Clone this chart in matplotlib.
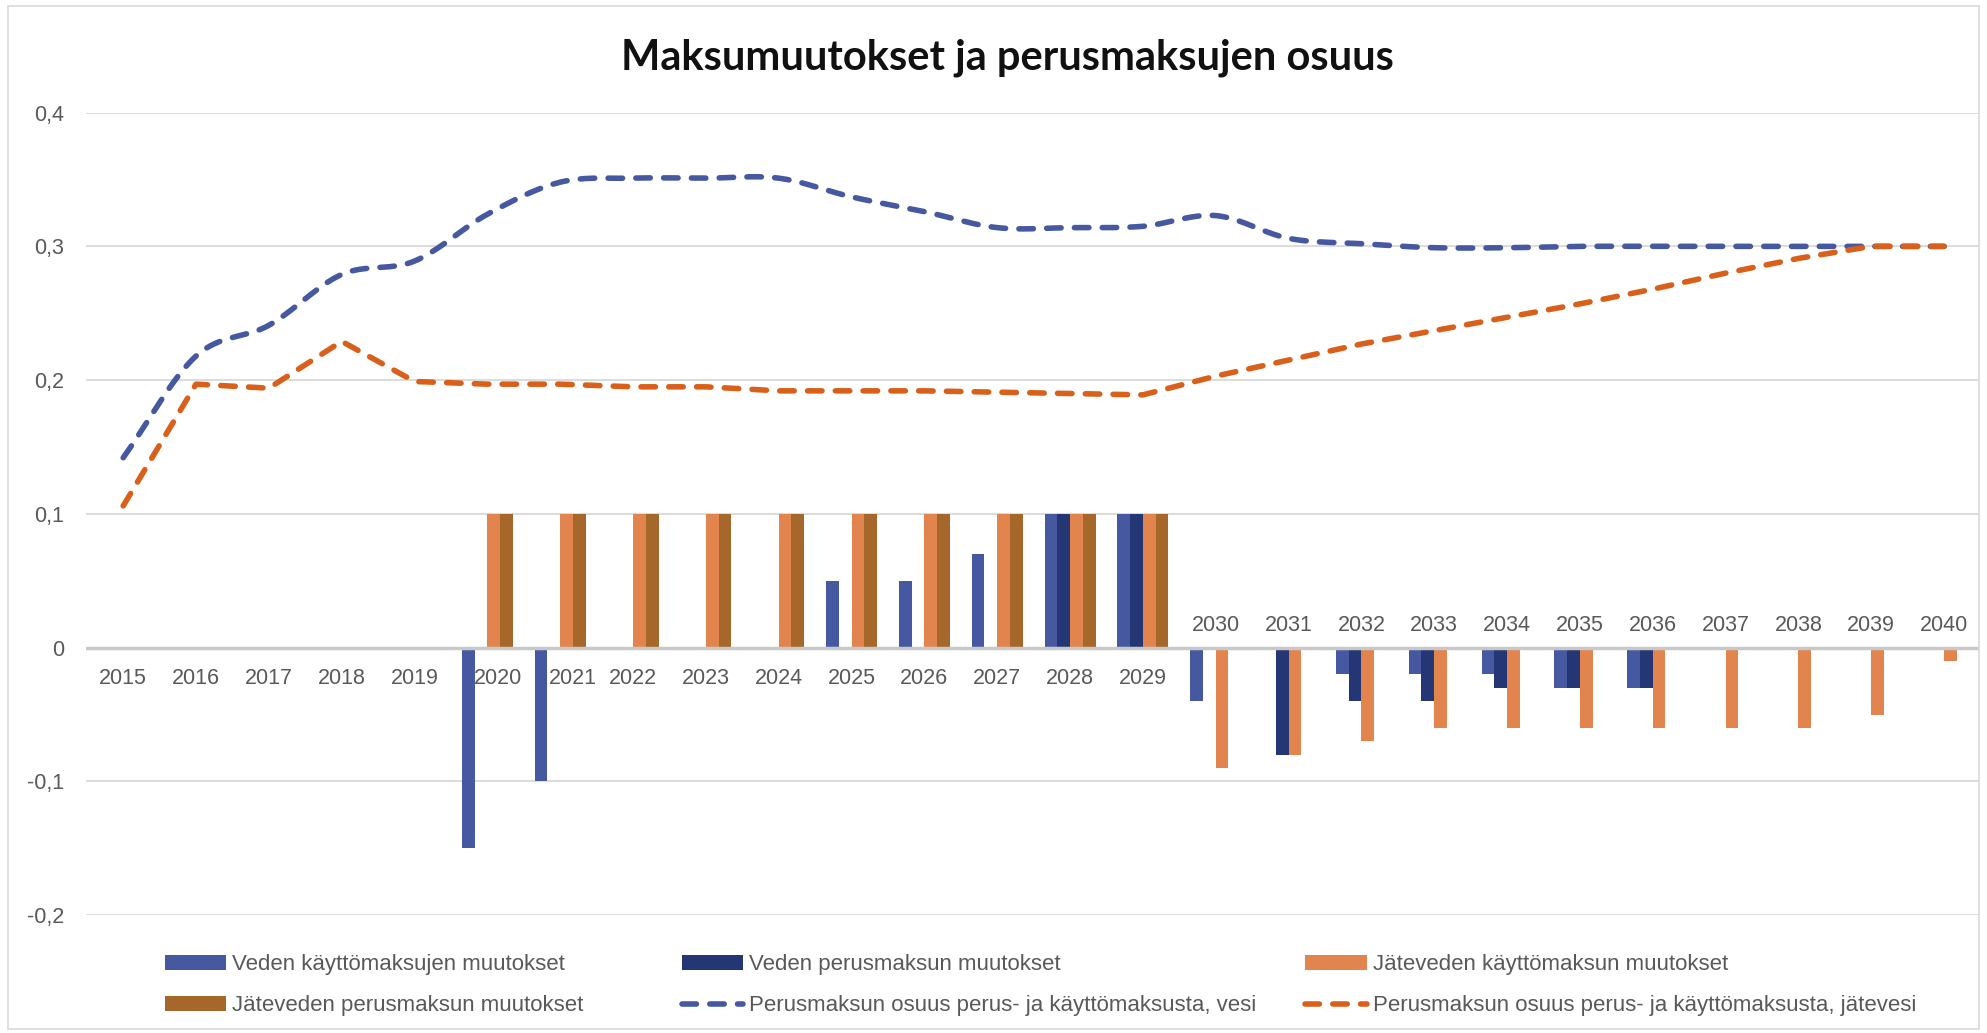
import matplotlib
matplotlib.use("Agg")
import matplotlib.pyplot as plt
import numpy as np

# data
vuodet = list(range(2015, 2041))
veden_kaytto = [0, 0, 0, 0, 0, -0.15, -0.10, 0, 0, 0, 0.05, 0.05, 0.07, 0.10, 0.10,
                -0.04, 0, -0.02, -0.02, -0.02, -0.03, -0.03, 0, 0, 0, 0]
veden_perus = [0, 0, 0, 0, 0, 0, 0, 0, 0, 0, 0, 0, 0, 0.10, 0.10,
               0, -0.08, -0.04, -0.04, -0.03, -0.03, -0.03, 0, 0, 0, 0]
jatev_kaytto = [0, 0, 0, 0, 0, 0.10, 0.10, 0.10, 0.10, 0.10, 0.10, 0.10, 0.10, 0.10, 0.10,
                -0.09, -0.08, -0.07, -0.06, -0.06, -0.06, -0.06, -0.06, -0.06, -0.05, -0.01]
jatev_perus = [0, 0, 0, 0, 0, 0.10, 0.10, 0.10, 0.10, 0.10, 0.10, 0.10, 0.10, 0.10, 0.10,
               0, 0, 0, 0, 0, 0, 0, 0, 0, 0, 0]
osuus_vesi = [0.142, 0.218, 0.241, 0.279, 0.289, 0.324, 0.348, 0.351, 0.351, 0.351,
              0.337, 0.326, 0.314, 0.314, 0.315, 0.323, 0.306, 0.302, 0.299, 0.299,
              0.300, 0.300, 0.300, 0.300, 0.300, 0.300]
osuus_jatevesi = [0.106, 0.197, 0.194, 0.229, 0.199, 0.197, 0.197, 0.195, 0.195, 0.192,
                  0.192, 0.192, 0.191, 0.190, 0.189, 0.203, 0.215, 0.227, 0.237, 0.247,
                  0.257, 0.268, 0.280, 0.291, 0.300, 0.300]

nimet = ["Veden käyttömaksujen muutokset", "Veden perusmaksun muutokset",
         "Jäteveden käyttömaksun muutokset", "Jäteveden perusmaksun muutokset",
         "Perusmaksun osuus perus- ja käyttömaksusta, vesi",
         "Perusmaksun osuus perus- ja käyttömaksusta, jätevesi"]

c_blue = "#4659A0"
c_navy = "#243673"
c_orange = "#E2844E"
c_brown = "#A5672A"
c_line_blue = "#4659A0"
c_line_orange = "#D9601A"
c_text = "#595959"

plt.rcParams['font.family'] = ['Liberation Sans', 'DejaVu Sans']


def smooth(x, y, n=20):
    # catmull-rom style smoothing, like Excel's smoothed line
    x = np.asarray(x, float)
    y = np.asarray(y, float)
    px = np.concatenate([[2 * x[0] - x[1]], x, [2 * x[-1] - x[-2]]])
    py = np.concatenate([[2 * y[0] - y[1]], y, [2 * y[-1] - y[-2]]])
    xs, ys = [], []
    t = np.linspace(0, 1, n, endpoint=False)
    for i in range(1, len(px) - 2):
        for p, out in ((px, xs), (py, ys)):
            p0, p1, p2, p3 = p[i - 1], p[i], p[i + 1], p[i + 2]
            out.extend(0.5 * ((2 * p1) + (-p0 + p2) * t +
                              (2 * p0 - 5 * p1 + 4 * p2 - p3) * t ** 2 +
                              (-p0 + 3 * p1 - 3 * p2 + p3) * t ** 3))
    xs.append(x[-1])
    ys.append(y[-1])
    return np.array(xs), np.array(ys)


fig = plt.figure(figsize=(19.87, 10.33), dpi=100)
ax = fig.add_axes([0.0433, 0.114, 0.9527, 0.777])

x = np.arange(len(vuodet))
w = 0.175
b1 = ax.bar(x - 1.5 * w, veden_kaytto, w, color=c_blue, zorder=3)
b2 = ax.bar(x - 0.5 * w, veden_perus, w, color=c_navy, zorder=3)
b3 = ax.bar(x + 0.5 * w, jatev_kaytto, w, color=c_orange, zorder=3)
b4 = ax.bar(x + 1.5 * w, jatev_perus, w, color=c_brown, zorder=3)

sx, sy = smooth(x, osuus_vesi)
l1, = ax.plot(sx, sy, color=c_line_blue, lw=4, ls=(0, (2.6, 2.4)),
              dash_capstyle='round', zorder=4)
l2, = ax.plot(x, osuus_jatevesi, color=c_line_orange, lw=4, ls=(0, (2.6, 2.4)),
              dash_capstyle='round', zorder=4)

ax.set_xlim(-0.51, 25.48)
ax.set_ylim(-0.2, 0.4)
yt = [-0.2, -0.1, 0, 0.1, 0.2, 0.3, 0.4]
ax.set_yticks(yt)
ax.set_yticklabels([("%g" % v).replace(".", ",") for v in yt], fontsize=15.5, color=c_text)
ax.tick_params(axis='y', length=0, pad=16)
ax.set_xticks([])
for s in ax.spines.values():
    s.set_visible(False)
for v in yt:
    if v != 0:
        ax.axhline(v, color="#D9D9D9", lw=1.3, zorder=1)
ax.axhline(0, color="#C8C8C8", lw=2.5, zorder=5)

# category labels: below the axis for the first years, above for the rest
siirto = {2020: 0.14, 2021: 0.17}
for i, v in enumerate(vuodet):
    if v < 2030:
        ax.annotate(str(v), (i + siirto.get(v, 0), 0), xytext=(0, -22),
                    textcoords='offset points', ha='center', va='center',
                    fontsize=15.5, color=c_text)
    else:
        ax.annotate(str(v), (i, 0), xytext=(0, 16), textcoords='offset points',
                    ha='center', va='center', fontsize=15.5, color=c_text)

fig.text(0.507, 0.944, "Maksumuutokset ja perusmaksujen osuus", ha='center', va='center',
         fontsize=30, fontweight='bold', family='Lato', color="#111111")

# legend: three columns, filled row by row
cols = [([b1, b4], [nimet[0], nimet[3]], 0.083),
        ([b2, l1], [nimet[1], nimet[4]], 0.343),
        ([b3, l2], [nimet[2], nimet[5]], 0.657)]
for h, lab, xpos in cols:
    lg = fig.legend(h, lab, loc='upper left', bbox_to_anchor=(xpos, 0.076),
                    frameon=False, fontsize=16, borderpad=0, borderaxespad=0,
                    handlelength=2.75, handleheight=0.7, handletextpad=0.28,
                    labelspacing=0.9, labelcolor=c_text)

fig.patches.append(plt.Rectangle((0.004, 0.004), 0.992, 0.99, transform=fig.transFigure,
                                 fill=False, edgecolor="#D9D9D9", lw=1.2))

fig.savefig("out.png", dpi=100)
